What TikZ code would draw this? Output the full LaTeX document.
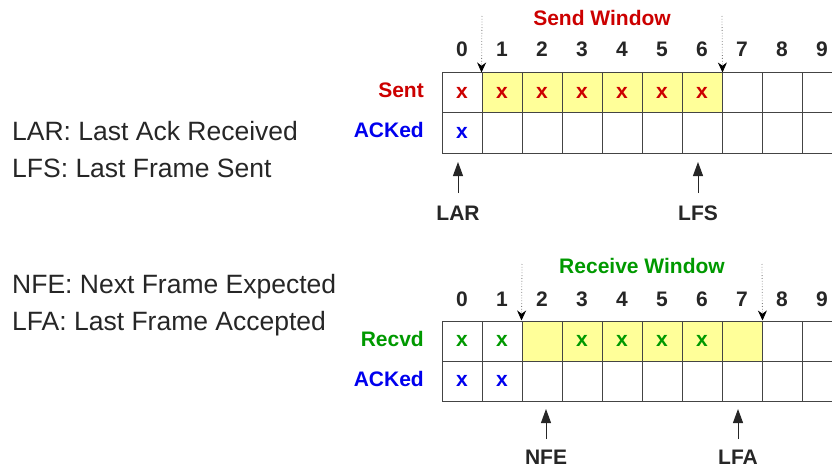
\documentclass[tikz,border=0pt]{standalone}
\usepackage{fontspec}
\setmainfont{Liberation Sans}
\usetikzlibrary{arrows.meta}
\definecolor{sred}{HTML}{CC0000}
\definecolor{sgreen}{HTML}{009900}
\definecolor{sblue}{HTML}{0000EE}
\definecolor{syel}{HTML}{FFFF99}
\definecolor{gridc}{HTML}{444444}
\begin{document}
\begin{tikzpicture}[x=1pt,y=-1pt,
  cell/.style={draw=gridc, line width=1pt, minimum size=40pt, inner sep=0pt,
    font=\bfseries\fontsize{21}{21}\selectfont},
  win/.style={fill=syel},
  bold/.style={font=\bfseries\fontsize{21}{21}\selectfont, inner sep=0pt},
  plain/.style={font=\fontsize{26.5}{30}\selectfont, inner sep=0pt, anchor=base west, text=black!85},
  winarrow/.style={draw=gray, dotted, line width=0.8pt, -{Stealth[black,length=10pt,width=9pt]}},
  ptr/.style={draw=black!85, line width=1pt, -{Triangle[length=14pt,width=10pt]}}
]
\useasboundingbox (0,0) rectangle (832,468);
\clip (0,0) rectangle (832,468);

% left texts
\node[plain] (t1) at (12,140.5) {LAR: Last Ack Received};
\node[plain] (t2) at (12,177) {LFS: Last Frame Sent};
\node[plain] (t3) at (12,293) {NFE: Next Frame Expected};
\node[plain] (t4) at (12,330) {LFA: Last Frame Accepted};

% ---- Sender ----
\foreach \i in {0,...,9} {
  \node[bold, anchor=base, text=black!85] (n\i) at ({462+40*\i},57) {\i};
}
\foreach \i in {0,...,9} {
  \ifnum\i>0 \ifnum\i<7
    \node[cell, win, text=sred] (s\i) at ({462+40*\i},93) {x};
  \else
    \node[cell] (s\i) at ({462+40*\i},93) {};
  \fi\else
    \node[cell, text=sred] (s\i) at ({462+40*\i},93) {x};
  \fi
}
\foreach \i in {0,...,9} {
  \ifnum\i=0
    \node[cell, text=sblue] (a\i) at ({462+40*\i},133) {x};
  \else
    \node[cell] (a\i) at ({462+40*\i},133) {};
  \fi
}
\node[bold, anchor=base east, text=sred] (sentl) at (424,98) {Sent};
\node[bold, anchor=base east, text=sblue] (ackl) at (424,138) {ACKed};
\node[bold, anchor=base, text=sred] (sw) at (602,26) {Send Window};

\coordinate (sw1) at (482,16);
\coordinate (sw2) at (722,16);
\draw[winarrow] (sw1) -- (s1.north west);
\draw[winarrow] (sw2) -- (s6.north east);

\node[bold, anchor=base, text=black!85] (lar) at (458,220) {LAR};
\node[bold, anchor=base, text=black!85] (lfs) at (698,220) {LFS};
\coordinate (lart) at (458,162);
\coordinate (lfst) at (698,162);
\coordinate (larb) at (458,193);
\coordinate (lfsb) at (698,193);
\draw[ptr] (larb) -- (lart);
\draw[ptr] (lfsb) -- (lfst);

% ---- Receiver ----
\foreach \i in {0,...,9} {
  \node[bold, anchor=base, text=black!85] (m\i) at ({462+40*\i},306) {\i};
}
\foreach \i in {0,...,9} {
  \ifnum\i<2
    \node[cell, text=sgreen] (r\i) at ({462+40*\i},341) {x};
  \else\ifnum\i=2
    \node[cell, win] (r\i) at ({462+40*\i},341) {};
  \else\ifnum\i<7
    \node[cell, win, text=sgreen] (r\i) at ({462+40*\i},341) {x};
  \else\ifnum\i=7
    \node[cell, win] (r\i) at ({462+40*\i},341) {};
  \else
    \node[cell] (r\i) at ({462+40*\i},341) {};
  \fi\fi\fi\fi
}
\foreach \i in {0,...,9} {
  \ifnum\i<2
    \node[cell, text=sblue] (b\i) at ({462+40*\i},381) {x};
  \else
    \node[cell] (b\i) at ({462+40*\i},381) {};
  \fi
}
\node[bold, anchor=base east, text=sgreen] (recl) at (424,346) {Recvd};
\node[bold, anchor=base east, text=sblue] (ack2l) at (424,386) {ACKed};
\node[bold, anchor=base, text=sgreen] (rw) at (642,273) {Receive Window};

\coordinate (rw1) at (522,264);
\coordinate (rw2) at (762,264);
\draw[winarrow] (rw1) -- (r2.north west);
\draw[winarrow] (rw2) -- (r7.north east);

\node[bold, anchor=base, text=black!85] (nfe) at (546,464) {NFE};
\node[bold, anchor=base, text=black!85] (lfa) at (738,464) {LFA};
\coordinate (nfet) at (546,409);
\coordinate (lfat) at (738,409);
\coordinate (nfeb) at (546,439);
\coordinate (lfab) at (738,439);
\draw[ptr] (nfeb) -- (nfet);
\draw[ptr] (lfab) -- (lfat);
\end{tikzpicture}
\end{document}
